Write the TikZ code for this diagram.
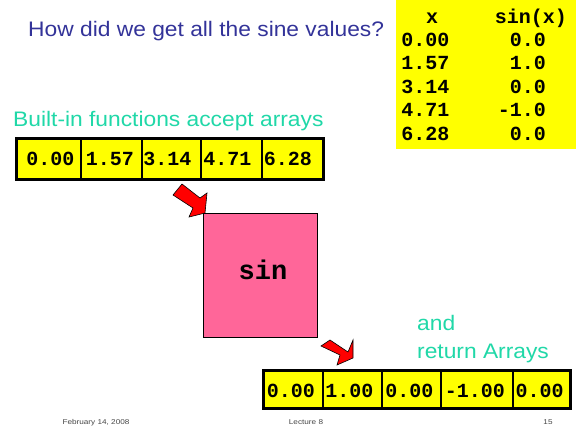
\documentclass[tikz,border=0pt]{standalone}
\usepackage{fontspec}
\newfontfamily\sansf[FakeStretch=1.085]{Liberation Sans}
\newfontfamily\footf[FakeStretch=1.17]{Liberation Sans}
\newfontfamily\monof{Liberation Mono}
\definecolor{titleblue}{RGB}{51,51,153}
\definecolor{tealtext}{RGB}{32,216,168}
\definecolor{cellyellow}{RGB}{255,255,0}
\definecolor{sinpink}{RGB}{255,102,153}
\definecolor{footgray}{RGB}{70,70,70}
\definecolor{arrowred}{RGB}{255,0,0}
\begin{document}
\begin{tikzpicture}[x=1pt,y=-1pt,
  headtext/.style={inner sep=0pt,anchor=base west,font=\sansf\fontsize{21}{24}\selectfont},
  monotext/.style={inner sep=0pt,anchor=base,font=\monof\bfseries\fontsize{20}{22}\selectfont},
  foot/.style={inner sep=0pt,anchor=base,text=footgray,font=\footf\fontsize{7}{8}\selectfont},
  outerbox/.style={draw=black,line width=3pt,fill=cellyellow},
  divider/.style={draw=black,line width=1.5pt},
  blockarrow/.style={fill=arrowred,draw=black,line width=0.6pt,line join=miter}]
\useasboundingbox (0,0) rectangle (576,429);
\fill[white] (0,0) rectangle (576,429);

% title
\node[headtext,text=titleblue] (title) at (28,36) {How did we get all the sine values?};

% table
\fill[cellyellow] (396,0) rectangle (576,149);
\node[monotext] (hx) at (432,23) {x};
\node[monotext] (hs) at (531,23) {sin(x)};
\node[monotext] (x1) at (425.5,46) {0.00};
\node[monotext] (x2) at (425.5,69) {1.57};
\node[monotext] (x3) at (425.5,93) {3.14};
\node[monotext] (x4) at (425.5,116) {4.71};
\node[monotext] (x5) at (425.5,140) {6.28};
\node[monotext,anchor=base east] (s1) at (546,46) {0.0};
\node[monotext,anchor=base east] (s2) at (546,69) {1.0};
\node[monotext,anchor=base east] (s3) at (546,93) {0.0};
\node[monotext,anchor=base east] (s4) at (546,116) {-1.0};
\node[monotext,anchor=base east] (s5) at (546,140) {0.0};

% top label and array
\node[headtext,text=tealtext] (builtin) at (13,126.7) {Built-in functions accept arrays};
\draw[outerbox] (16.5,138.5) rectangle (323.5,179.5);
\foreach \xx in {81,142,201,262} \draw[divider] (\xx,138.5) -- (\xx,179.5);
\node[monotext] (a1) at (50.5,165.5) {0.00};
\node[monotext] (a2) at (110,165.5) {1.57};
\node[monotext] (a3) at (167.5,165.5) {3.14};
\node[monotext] (a4) at (227.5,165.5) {4.71};
\node[monotext] (a5) at (288,165.5) {6.28};

% arrow 1
\draw[blockarrow] (182,184) -- (200,198) -- (207,193) -- (205,213) -- (189,217) -- (193,208) -- (173,195) -- cycle;

% sin box
\draw[fill=sinpink,draw=black,line width=0.8pt] (203,213) rectangle (317,337);
\node[monotext,font=\monof\bfseries\fontsize{27}{30}\selectfont] (sinlbl) at (263,279.5) {sin};

% arrow 2
\draw[blockarrow] (330,340) -- (348,352) -- (353,340) -- (353,358) -- (337,365) -- (340,355) -- (321,346) -- cycle;

% return label
\node[headtext,text=tealtext] (andlbl) at (417,330.5) {and};
\node[headtext,text=tealtext] (retlbl) at (417,358) {return Arrays};

% bottom array
\draw[outerbox] (263.5,370.5) rectangle (570.5,408.5);
\foreach \xx in {323,382,441,513} \draw[divider] (\xx,370.5) -- (\xx,408.5);
\node[monotext] (b1) at (291,397) {0.00};
\node[monotext] (b2) at (349.5,397) {1.00};
\node[monotext] (b3) at (409.5,397) {0.00};
\node[monotext] (b4) at (475,397) {-1.00};
\node[monotext] (b5) at (539.5,397) {0.00};

% footer
\node[foot] (date) at (96,424) {February 14, 2008};
\node[foot] (lect) at (306,424) {Lecture 8};
\node[foot] (page) at (548,424) {15};
\end{tikzpicture}
\end{document}
